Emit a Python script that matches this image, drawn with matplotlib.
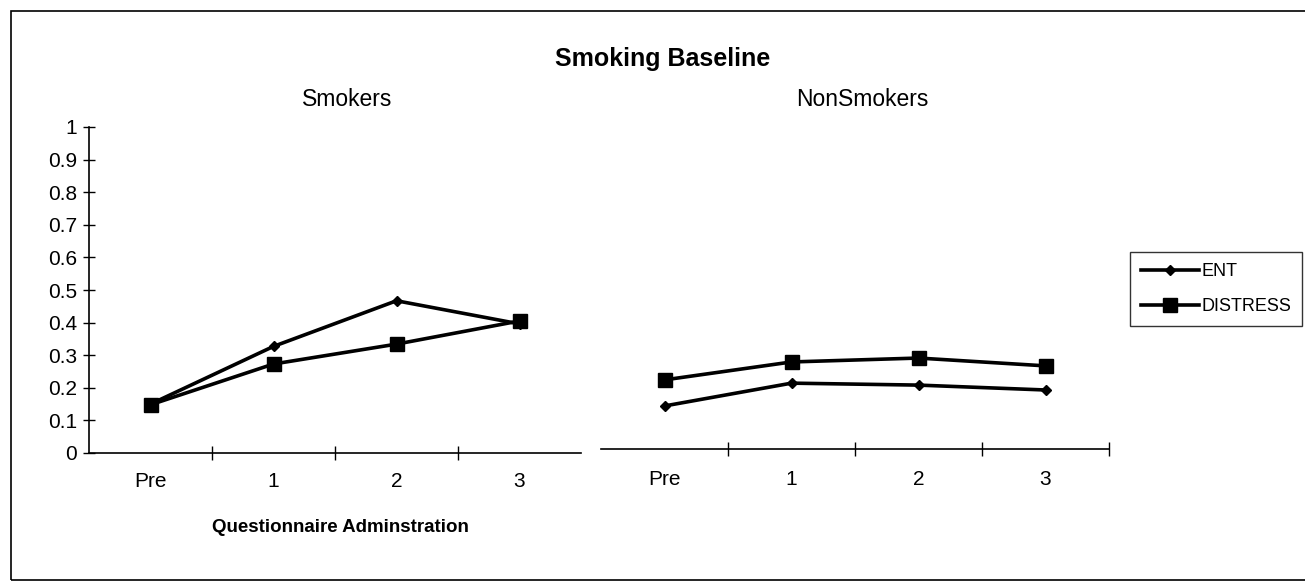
import matplotlib
matplotlib.use("Agg")
import matplotlib.pyplot as plt
from matplotlib.lines import Line2D
from matplotlib.patches import Rectangle

plt.rcParams['font.family'] = ['Liberation Sans', 'DejaVu Sans']

categories = ["Pre", "1", "2", "3"]
smokers_ent = [0.15, 0.327, 0.467, 0.396]
smokers_distress = [0.148, 0.273, 0.334, 0.405]
nonsmokers_ent = [0.132, 0.202, 0.196, 0.181]
nonsmokers_distress = [0.212, 0.267, 0.279, 0.255]
yticks = [0, 0.1, 0.2, 0.3, 0.4, 0.5, 0.6, 0.7, 0.8, 0.9, 1]
ytick_labels = ["0", "0.1", "0.2", "0.3", "0.4", "0.5", "0.6", "0.7", "0.8", "0.9", "1"]

W, H = 1305, 582
fig = plt.figure(figsize=(W / 100, H / 100), dpi=100)

def ax_rect(x0, y_top, x1, y_bot):
    return [x0 / W, 1 - y_bot / H, (x1 - x0) / W, (y_bot - y_top) / H]

axL = fig.add_axes(ax_rect(89, 127, 581, 453))
axR = fig.add_axes(ax_rect(601, 123, 1109, 449))

xs = list(range(len(categories)))
lw = 2.6
for ax, ent, dis in [(axL, smokers_ent, smokers_distress), (axR, nonsmokers_ent, nonsmokers_distress)]:
    ax.plot(xs, ent, color='black', lw=lw, marker='D', ms=5, zorder=3)
    ax.plot(xs, dis, color='black', lw=lw, marker='s', ms=10, zorder=3)
    ax.set_xlim(-0.5, 3.5)
    ax.set_ylim(0, 1)
    for s in ['top', 'right']:
        ax.spines[s].set_visible(False)
    ax.spines['bottom'].set_linewidth(1.2)
    ax.set_xticks([0.5, 1.5, 2.5], minor=False)
    ax.set_xticklabels([])
    ax.tick_params(axis='x', which='major', direction='inout', length=10, width=1)
    ax.set_xticks(xs, minor=True)
    ax.set_xticklabels(categories, minor=True, fontsize=15)
    ax.tick_params(axis='x', which='minor', length=0, pad=14)

axL.set_yticks(yticks)
axL.set_yticklabels(ytick_labels, fontsize=15)
axL.spines['left'].set_linewidth(1.2)
axL.tick_params(axis='y', direction='inout', length=9, width=1, pad=4)

axR.spines['left'].set_visible(False)
axR.set_yticks([])
axR.tick_params(axis='x', which='minor', pad=15)
axR.set_xticks([0.5, 1.5, 2.5, 3.5])
axR.set_xticklabels([])

fig.text(347 / W, 1 - 106 / H, "Smokers", ha='center', va='baseline', fontsize=16.5)
fig.text(862 / W, 1 - 106 / H, "NonSmokers", ha='center', va='baseline', fontsize=16.5)

fig.text(663 / W, 1 - 66 / H, "Smoking Baseline", ha='center', va='baseline', fontsize=18, fontweight='bold')
fig.text(340 / W, 1 - 527 / H, "Questionnaire Adminstration", ha='center', va='center', fontsize=13.5, fontweight='bold')

handles = [Line2D([], [], color='black', lw=lw, marker='D', ms=5),
           Line2D([], [], color='black', lw=lw, marker='s', ms=10)]
fig.legend(handles, ["ENT", "DISTRESS"], loc='upper left',
           bbox_to_anchor=(1130 / W, 1 - 252 / H), fontsize=13, frameon=True,
           fancybox=False, edgecolor='black', handlelength=3.2, handletextpad=0.15,
           borderpad=0.6, labelspacing=1.0, borderaxespad=0)

fig.patches.append(Rectangle((11 / W, 1 - 580 / H), (1310 - 11) / W, (580 - 11) / H,
                             transform=fig.transFigure, fill=False, edgecolor='black', lw=1.2))

fig.savefig("out.png", dpi=100)
